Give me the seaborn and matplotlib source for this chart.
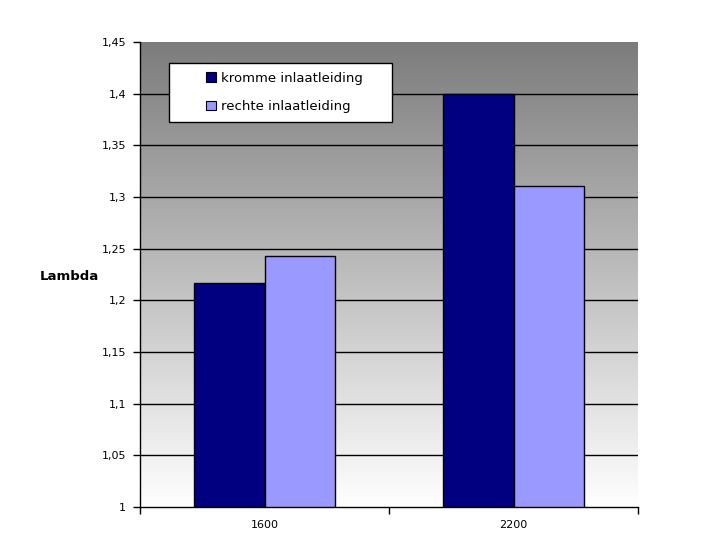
import numpy as np
import pandas as pd
import matplotlib
matplotlib.use("Agg")
import matplotlib.pyplot as plt
from matplotlib.patches import Rectangle, Patch
from matplotlib.ticker import FuncFormatter, MultipleLocator
import seaborn as sns

categories = ["1600", "2200"]
series_names = ["kromme inlaatleiding", "rechte inlaatleiding"]
kromme = [1.217, 1.400]
rechte = [1.243, 1.311]
colors = ["#000080", "#9999FF"]

df = pd.DataFrame({
    "rpm": categories * 2,
    "serie": [series_names[0]] * 2 + [series_names[1]] * 2,
    "lambda": kromme + rechte,
})

sns.set_theme(style="white")
plt.rcParams["font.family"] = ["DejaVu Sans"]
plt.rcParams["text.color"] = "black"

fig = plt.figure(figsize=(7.2, 5.4), dpi=100)
ax = fig.add_axes([140/720, 33/540, 498/720, 465/540])

# gradient background
grad = np.linspace(0, 1, 256).reshape(-1, 1)
cmap = matplotlib.colors.LinearSegmentedColormap.from_list("g", ["#ffffff", "#7c7c7c"])
ax.imshow(grad, extent=[0, 1, 0, 1], transform=ax.transAxes, cmap=cmap,
          aspect="auto", origin="lower", zorder=0)

sns.barplot(data=df, x="rpm", y="lambda", hue="serie", palette=colors,
            saturation=1, width=0.57, gap=0, edgecolor="black", linewidth=1,
            ax=ax, legend=False, zorder=2)

ax.set_xlim(-0.5, 1.5)
ax.set_ylim(1.0, 1.45)
ax.yaxis.set_major_locator(MultipleLocator(0.05))
ax.yaxis.set_major_formatter(FuncFormatter(lambda v, p: (f"{v:.2f}".rstrip("0").rstrip(".")).replace(".", ",")))

# horizontal gridlines (not at the top edge)
for v in np.arange(1.05, 1.41, 0.05):
    ax.axhline(v, color="black", linewidth=1, zorder=1)

ax.set_xlabel("")
ax.set_ylabel("")
for s in ["top", "right"]:
    ax.spines[s].set_visible(False)
for s in ["left", "bottom"]:
    ax.spines[s].set_color("black")
    ax.spines[s].set_linewidth(1)
    ax.spines[s].set_zorder(3)

ax.set_xticks([0, 1])
ax.set_xticklabels(categories)
ax.set_xticks([-0.5, 0.5, 1.5], minor=True)
ax.tick_params(axis="x", which="major", length=0, pad=9, labelsize=8, colors="black")
ax.tick_params(axis="x", which="minor", length=5, width=1, color="black", direction="out", bottom=True)
ax.tick_params(axis="y", which="major", length=5, width=1, color="black", direction="out",
               left=True, labelsize=8, labelcolor="black", pad=5)

# legend box
ax.add_patch(Rectangle((0.058, 0.828), 0.448, 0.127, transform=ax.transAxes,
                       facecolor="white", edgecolor="black", linewidth=1, zorder=4))
handles = [Patch(facecolor=c, edgecolor="black", linewidth=0.8) for c in colors]
leg = ax.legend(handles, series_names, loc="center",
                bbox_to_anchor=(0.066 + 0.224, 0.828 + 0.0635),
                bbox_transform=ax.transAxes, frameon=False, fontsize=9.5,
                handlelength=0.75, handleheight=0.75, handletextpad=0.35,
                labelspacing=1.15, labelcolor="black")
leg.set_zorder(5)

fig.text(69/720, 1 - 276/540, "Lambda", fontsize=9.5, fontweight="bold",
         ha="center", va="center", color="black")

fig.savefig("out.png", dpi=100, facecolor="white")
